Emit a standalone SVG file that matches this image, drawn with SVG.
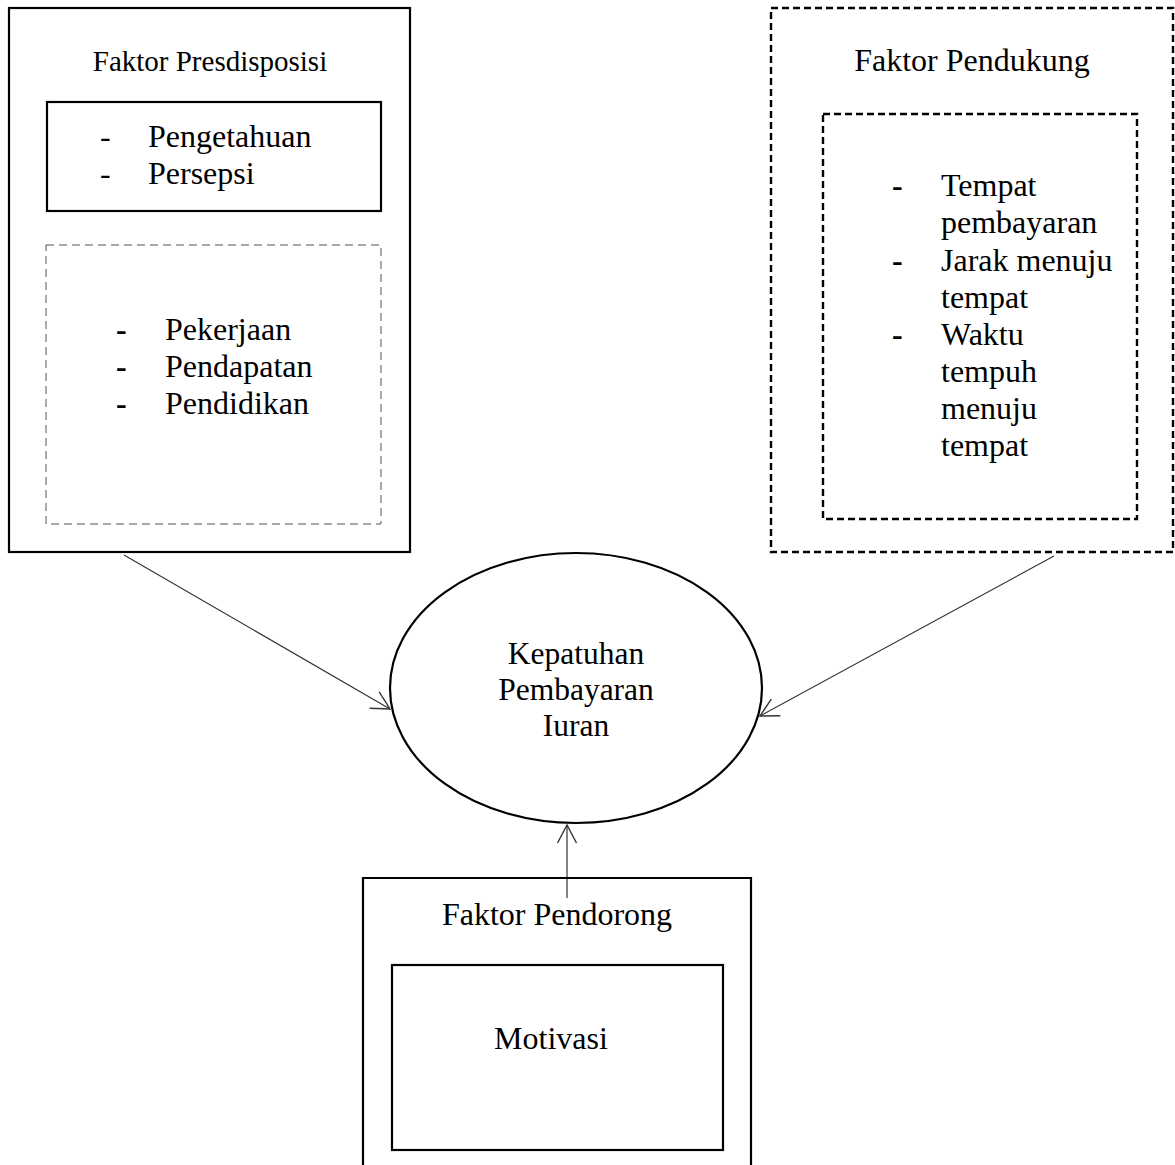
<svg xmlns="http://www.w3.org/2000/svg" width="1175" height="1165" viewBox="0 0 1175 1165">
<style>
text{font-family:"Liberation Serif","Times New Roman",serif;fill:#000}
.t{font-size:32px}
.li{font-size:32px}
.el{font-size:31.5px}
.solid{fill:none;stroke:#000;stroke-width:2.2}
.dgray{fill:none;stroke:#555;stroke-width:1;stroke-dasharray:8 5}
.dbold{fill:none;stroke:#000;stroke-width:2.4;stroke-dasharray:7 4}
.conn{fill:none;stroke:#333;stroke-width:1.2;marker-end:url(#arr)}
</style>
<defs>
<marker id="arr" markerUnits="userSpaceOnUse" markerWidth="22" markerHeight="22" refX="19" refY="10.5" orient="auto">
<path d="M1,1 L19,10.5 L1,20" fill="none" stroke="#333" stroke-width="1.4"/>
</marker>
</defs>
<rect width="1175" height="1165" fill="#fff"/>
<g id="connectors">
<line class="conn" x1="124" y1="555" x2="390" y2="709"/>
<line class="conn" x1="1054" y1="556" x2="760" y2="716"/>
<line class="conn" x1="567" y1="898" x2="567" y2="825"/>
</g>
<g id="faktor-presdisposisi">
<rect class="solid" x="9" y="8" width="401" height="544"/>
<text x="210" y="71" text-anchor="middle" font-size="29">Faktor Presdisposisi</text>
<rect class="solid" x="47" y="102" width="334" height="109"/>
<text class="li" x="100" y="147">-</text>
<text class="li" x="148" y="147">Pengetahuan</text>
<text class="li" x="100" y="184">-</text>
<text class="li" x="148" y="184">Persepsi</text>
<rect class="dgray" x="46" y="245" width="335" height="279"/>
<text class="li" x="116" y="340" font-weight="bold">-</text>
<text class="li" x="165" y="340">Pekerjaan</text>
<text class="li" x="116" y="377" font-weight="bold">-</text>
<text class="li" x="165" y="377">Pendapatan</text>
<text class="li" x="116" y="414" font-weight="bold">-</text>
<text class="li" x="165" y="414">Pendidikan</text>
</g>
<g id="faktor-pendukung">
<rect class="dbold" x="771" y="8" width="402" height="544"/>
<text class="t" x="972" y="71" text-anchor="middle">Faktor Pendukung</text>
<rect class="dbold" x="823" y="114" width="314" height="405"/>
<text class="li" x="892" y="196" font-weight="bold">-</text>
<text class="li" x="941" y="196">Tempat</text>
<text class="li" x="941" y="233">pembayaran</text>
<text class="li" x="892" y="271" font-weight="bold">-</text>
<text class="li" x="941" y="271">Jarak menuju</text>
<text class="li" x="941" y="308">tempat</text>
<text class="li" x="892" y="345" font-weight="bold">-</text>
<text class="li" x="941" y="345">Waktu</text>
<text class="li" x="941" y="382">tempuh</text>
<text class="li" x="941" y="419">menuju</text>
<text class="li" x="941" y="456">tempat</text>
</g>
<g id="kepatuhan">
<ellipse class="solid" cx="576" cy="688" rx="186" ry="135"/>
<text class="el" x="576" y="664" text-anchor="middle">Kepatuhan</text>
<text class="el" x="576" y="700" text-anchor="middle">Pembayaran</text>
<text class="el" x="576" y="736" text-anchor="middle">Iuran</text>
</g>
<g id="faktor-pendorong">
<path class="solid" d="M363,1165 L363,878 L751,878 L751,1165"/>
<text class="li" x="557" y="925" text-anchor="middle">Faktor Pendorong</text>
<rect class="solid" x="392" y="965" width="331" height="185"/>
<text class="li" x="551" y="1049" text-anchor="middle">Motivasi</text>
</g>
</svg>
